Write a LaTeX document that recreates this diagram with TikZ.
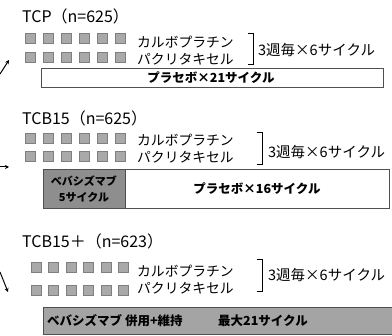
\documentclass[tikz,border=0pt]{standalone}
\usepackage{fontspec}
\setmainfont{Noto Sans CJK JP}
\usetikzlibrary{arrows.meta}
\definecolor{sqgray}{HTML}{A9A9A9}
\definecolor{dkgray}{HTML}{8E8E8E}
\definecolor{bargray}{HTML}{A4A4A4}
\definecolor{edgegray}{HTML}{505050}
\begin{document}
\begin{tikzpicture}[x=1pt,y=-1pt,
  ttl/.style={anchor=west, inner sep=0pt, font=\fontsize{16}{16}\selectfont},
  drug/.style={anchor=west, inner sep=0pt, font=\fontsize{13.8}{14}\selectfont},
  cyc/.style={anchor=west, inner sep=0pt, font=\fontsize{14.5}{15}\selectfont},
  bartxt/.style={inner sep=0pt, font=\bfseries\fontsize{12.5}{13}\selectfont},
  smalltxt/.style={inner sep=0pt, font=\bfseries\fontsize{11}{12}\selectfont},
  sq/.style={fill=sqgray, draw=sqgray!75!black, line width=0.3pt},
  bar/.style={draw=edgegray, line width=0.8pt},
  brk/.style={draw=black, line width=1pt},
  arr/.style={draw=black, line width=1pt, -{Stealth[length=4pt,width=4pt]}}]
\useasboundingbox (0,0) rectangle (392,336);
% ---------- TCP ----------
\node[ttl] (t1) at (22,16) {TCP（n=625）};
\foreach \i in {0,...,5}{
  \fill[sq] (25+18*\i,33) rectangle ++(10,10);
  \fill[sq] (25+18*\i,52) rectangle ++(10,10);
}
\node[drug] (c1) at (137,42) {カルボプラチン};
\node[drug] (p1) at (137,59) {パクリタキセル};
\draw[brk] (248,34) -- (253,34) -- (253,65) -- (248,65);
\node[cyc] (k1) at (258,50) {3週毎×6サイクル};
\draw[bar, fill=white] (41,68) rectangle (383,87);
\node[bartxt] (b1) at (211,78) {プラセボ×21サイクル};
\coordinate (a1s) at (0,74);
\coordinate (a1e) at (9,60);
\draw[arr] (a1s) -- (a1e);
% ---------- TCB15 ----------
\node[ttl] (t2) at (22,118) {TCB15（n=625）};
\foreach \i in {0,...,5}{
  \fill[sq] (25+18*\i,133) rectangle ++(10,10);
  \fill[sq] (25+18*\i,151) rectangle ++(10,10);
}
\node[drug] (c2) at (137,140) {カルボプラチン};
\node[drug] (p2) at (137,157) {パクリタキセル};
\draw[brk] (257,133) -- (262,133) -- (262,165) -- (257,165);
\node[cyc] (k2) at (268,152) {3週毎×6サイクル};
\draw[bar, fill=white] (125,169) rectangle (389,208);
\draw[bar, fill=dkgray] (43,169) rectangle (125,208);
\node[smalltxt] (d2a) at (84,181) {ベバシズマブ};
\node[smalltxt] (d2b) at (84,197) {5サイクル};
\node[bartxt] (b2) at (257,189) {プラセボ×16サイクル};
\coordinate (a2s) at (0,167);
\coordinate (a2e) at (9,167);
\draw[arr] (a2s) -- (a2e);
% ---------- TCB15+ ----------
\node[ttl] (t3) at (22,241) {TCB15＋（n=623）};
\foreach \i in {0,...,5}{
  \fill[sq] (31+17.5*\i,262) rectangle ++(10,10);
  \fill[sq] (31+17.5*\i,285) rectangle ++(10,10);
}
\node[drug] (c3) at (137,271) {カルボプラチン};
\node[drug] (p3) at (137,288) {パクリタキセル};
\draw[brk] (257,260) -- (262,260) -- (262,292) -- (257,292);
\node[cyc] (k3) at (268,275) {3週毎×6サイクル};
\draw[bar, fill=bargray] (43,307) rectangle (393,334);
\node[bartxt, anchor=west] (b3a) at (47,321) {ベバシズマブ 併用+維持};
\node[bartxt, anchor=west] (b3b) at (218,321) {最大21サイクル};
\coordinate (a3s) at (0,272);
\coordinate (a3e) at (8,292);
\draw[arr] (a3s) -- (a3e);
\end{tikzpicture}
\end{document}
